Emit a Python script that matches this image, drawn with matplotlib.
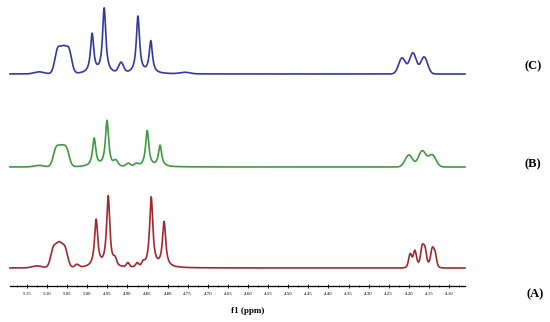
import numpy as np
import matplotlib
matplotlib.use("Agg")
import matplotlib.pyplot as plt
from matplotlib.ticker import MultipleLocator, FormatStrFormatter

# ---------------- data ----------------
# Spectrum (C) – blue
c_lor_ppm = [4.988, 4.958, 4.874, 4.842]
c_lor_h = [39, 65, 57, 32]
c_gau_ppm = [5.074, 5.060, 5.046, 5.120, 4.916, 4.757, 4.217, 4.190, 4.162]
c_gau_h = [23, 22, 23, 2, 10, 1.5, 16, 21, 17]
c_gau_w = [0.007, 0.007, 0.007, 0.012, 0.006, 0.012, 0.0085, 0.0085, 0.0085]

# Spectrum (B) – green
b_lor_ppm = [4.983, 4.951, 4.851, 4.819]
b_lor_h = [28, 46, 36, 21]
b_gau_ppm = [5.078, 5.065, 5.052, 5.120, 4.929, 4.898, 4.878, 4.200, 4.167, 4.142]
b_gau_h = [17, 16, 17, 1.5, 5, 3, 2.5, 12, 16, 12]
b_gau_w = [0.007, 0.007, 0.007, 0.012, 0.005, 0.005, 0.005, 0.0093, 0.0093, 0.0093]

# Spectrum (A) – red
a_lor_ppm = [4.978, 4.948, 4.841, 4.809]
a_lor_h = [47, 71, 70, 45]
a_gau_ppm = [5.084, 5.070, 5.056, 5.125, 5.026, 4.931, 4.899, 4.876, 4.861,
             4.190, 4.166, 4.142,
             4.197, 4.185, 4.167, 4.160, 4.142, 4.135]
a_gau_h = [19, 21, 19, 2, 3, 6, 4, 3.5, 3.5,
           6, 6, 6,
           10, 12, 15, 14, 13, 11]
a_gau_w = [0.007, 0.007, 0.007, 0.012, 0.005, 0.004, 0.0035, 0.0035, 0.0035,
           0.009, 0.009, 0.009,
           0.0035, 0.0035, 0.0035, 0.0035, 0.0035, 0.0035]

labels = ["(A)", "(B)", "(C)"]
tick_major = 0.05
tick_minor = 0.025
x_left, x_right = 5.1923, 4.0604

# ---------------- styles ----------------
LOR_HWHM = 0.0048
colors = {"A": "#a0282e", "B": "#3c9b3c", "C": "#35379c"}
offsets = {"A": 18, "B": 119, "C": 212}

ppm = np.linspace(x_left, x_right, 4000)


def spectrum(lp, lh, gp, gh, gw):
    y = np.zeros_like(ppm)
    for p, h in zip(lp, lh):
        y += h / (1 + ((ppm - p) / LOR_HWHM) ** 2)
    for p, h, w in zip(gp, gh, gw):
        y += h * np.exp(-0.5 * ((ppm - p) / w) ** 2)
    return y


specs = {
    "A": spectrum(a_lor_ppm, a_lor_h, a_gau_ppm, a_gau_h, a_gau_w),
    "B": spectrum(b_lor_ppm, b_lor_h, b_gau_ppm, b_gau_h, b_gau_w),
    "C": spectrum(c_lor_ppm, c_lor_h, c_gau_ppm, c_gau_h, c_gau_w),
}

W, H = 550, 322
fig = plt.figure(figsize=(W / 100, H / 100), dpi=100)
ax = fig.add_axes([10 / W, (H - 286) / H, 455 / W, 286 / H])
ax.set_xlim(x_left, x_right)
ax.set_ylim(0, 286)

for k in ["A", "B", "C"]:
    ax.plot(ppm, specs[k] + offsets[k], color=colors[k], lw=1.2, clip_on=False)

for s in ["top", "left", "right"]:
    ax.spines[s].set_visible(False)
ax.spines["bottom"].set_linewidth(0.9)
ax.set_yticks([])
ax.xaxis.set_major_locator(MultipleLocator(tick_major))
ax.xaxis.set_minor_locator(MultipleLocator(tick_minor))
ax.xaxis.set_major_formatter(FormatStrFormatter("%.2f"))
ax.tick_params(axis="x", which="major", direction="inout", length=3, width=0.6,
               labelsize=3.5, pad=2.5)
ax.tick_params(axis="x", which="minor", direction="inout", length=2, width=0.5)
for t in ax.get_xticklabels():
    t.set_fontfamily("Liberation Serif")

fig.text(248 / W, 1 - 311 / H, "f1 (ppm)", ha="center", va="center",
         fontsize=6.5, fontweight="bold", family="Liberation Serif")
label_pos = {"(A)": (535, 294), "(B)": (533, 164), "(C)": (533, 66)}
for lab in labels:
    x, y = label_pos[lab]
    fig.text(x / W, 1 - y / H, lab, ha="center", va="center", fontsize=9,
             fontweight="bold", family="Liberation Serif")

fig.savefig("out.png", dpi=100)
